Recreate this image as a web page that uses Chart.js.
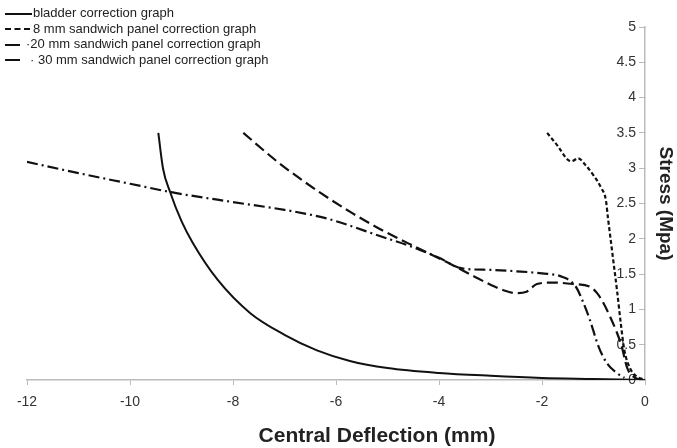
<!DOCTYPE html>
<html>
<head>
<meta charset="utf-8">
<script src="https://cdn.jsdelivr.net/npm/chart.js@4.4.0/dist/chart.umd.min.js"></script>
<style>
    body { margin: 0; background: #fff; }
    #wrap { position: relative; width: 677px; height: 448px; font-family: "Liberation Sans", Arial, sans-serif; }
    #legendDiv { position: absolute; left: 4px; top: 5px; font-size: 13px; color: #222; }
    #legendDiv div { height: 15.5px; line-height: 15.5px; white-space: nowrap; }
    #legendDiv svg { vertical-align: middle; }
    #xTitle { position: absolute; left: 377px; top: 435px; transform: translate(-50%, -50%); font-size: 21px; font-weight: bold; color: #222; white-space: nowrap; }
</style>
</head>
<body>
<div id="wrap">
    <canvas id="deflChart" width="677" height="448"></canvas>
    <div id="legendDiv"></div>
    <div id="xTitle">Central Deflection (mm)</div>
</div>
<script>
// values (x: central deflection mm, y: stress MPa)
const bladderX = [-9.45, -9.36, -9.22, -9.0, -8.78, -8.3, -7.67, -7.0, -6.37, -5.73, -5.0, -4.0, -3.0, -2.0, -1.0, 0];
const bladderY = [3.5, 3.0, 2.66, 2.25, 1.94, 1.42, 0.95, 0.64, 0.42, 0.27, 0.17, 0.1, 0.06, 0.03, 0.015, 0];

const panel8X = [-1.9, -1.7, -1.5, -1.42, -1.3, -1.15, -1.0, -0.85, -0.76, -0.72, -0.66, -0.6, -0.54, -0.47, -0.4, -0.3, -0.18, 0];
const panel8Y = [3.5, 3.32, 3.12, 3.1, 3.14, 3.04, 2.9, 2.72, 2.55, 2.3, 1.95, 1.6, 1.25, 0.8, 0.42, 0.18, 0.06, 0];

const panel20X = [-7.8, -7.1, -6.3, -5.7, -5.15, -4.5, -3.85, -3.3, -3.0, -2.7, -2.5, -2.3, -2.1, -1.8, -1.4, -1.07, -0.93, -0.8, -0.68, -0.55, -0.45, -0.35, -0.19, 0];
const panel20Y = [3.5, 3.07, 2.65, 2.37, 2.14, 1.9, 1.67, 1.46, 1.35, 1.26, 1.23, 1.25, 1.36, 1.38, 1.36, 1.32, 1.23, 1.08, 0.9, 0.68, 0.47, 0.18, 0.03, 0];

const panel30X = [-12, -11, -10, -9.2, -8, -7, -6.3, -6, -5.15, -4.5, -4, -3.55, -3, -2.5, -2, -1.6, -1.35, -1.2, -1.07, -0.9, -0.74, -0.55, -0.4];
const panel30Y = [3.09, 2.93, 2.78, 2.66, 2.52, 2.41, 2.31, 2.25, 2.04, 1.88, 1.73, 1.58, 1.56, 1.54, 1.51, 1.46, 1.33, 1.1, 0.85, 0.47, 0.24, 0.1, 0.03];

const seriesNames = ['bladder correction graph', '8 mm sandwich panel correction graph', '20 mm sandwich panel correction graph', '30 mm sandwich panel correction graph'];
const legendPrefix = ['', '', '\u00b7', '\u00b7 '];
const dashes = [[], [4, 2.5], [11, 5], [11, 4, 2, 4]];

// legend samples: [svg width, line end, dash pattern]
const legendSample = [[29, 28, 'none'], [29, 26, '6 3.5'], [22, 16, 'none'], [26, 16, 'none']];

function pts(xs, ys) {
    return xs.map((x, i) => ({ x: x, y: ys[i] }))
}

const allData = [pts(bladderX, bladderY), pts(panel8X, panel8Y), pts(panel20X, panel20Y), pts(panel30X, panel30Y)];

const font = '"Liberation Sans", Arial, sans-serif';

let datasets = allData.map((d, idx) => {
    return {
        label: seriesNames[idx],
        data: d,
        borderColor: '#111',
        borderWidth: idx == 0 ? 2 : 2.2,
        borderDash: dashes[idx],
        pointRadius: 0,
        fill: false,
        cubicInterpolationMode: 'monotone'
    }
})

let ulData = [];
seriesNames.forEach((name, idx) => {
    let s = legendSample[idx];
    ulData.push(`<div><svg width="${s[0]}" height="6"><line x1="1" y1="3" x2="${s[1]}" y2="3" stroke="#111" stroke-width="2" stroke-dasharray="${s[2]}"/></svg>${legendPrefix[idx]}${name}</div>`)
})
document.getElementById('legendDiv').innerHTML = ulData.join('');

new Chart(document.getElementById('deflChart').getContext('2d'), {
    type: 'line',
    data: { datasets: datasets },
    options: {
        responsive: false,
        animation: false,
        layout: { padding: { left: 27, top: 27, right: 0, bottom: 0 } },
        plugins: { legend: { display: false }, tooltip: { enabled: false } },
        scales: {
            x: {
                type: 'linear', min: -12, max: 0,
                ticks: { stepSize: 2, color: '#333', font: { family: font, size: 14 }, padding: 9 },
                grid: { drawOnChartArea: false, tickLength: 5, color: '#bbb' },
                border: { color: '#bbb', width: 1.5 },
                afterFit: function (s) { s.height = 68 }
            },
            y: {
                position: 'right', min: 0, max: 5,
                ticks: {
                    stepSize: 0.5, mirror: true, padding: -9, color: '#333', font: { family: font, size: 14 },
                    callback: function (v) { return String(+v.toFixed(1)) }
                },
                grid: { drawOnChartArea: false, tickLength: -6, color: '#bbb' },
                border: { color: '#bbb', width: 1.5 },
                title: { display: true, text: 'Stress (Mpa)', color: '#222', font: { family: font, size: 19, weight: 'bold' }, padding: { top: 0, bottom: 4 } },
                afterFit: function (s) { s.width = 32 }
            }
        }
    }
});
</script>
</body>
</html>
